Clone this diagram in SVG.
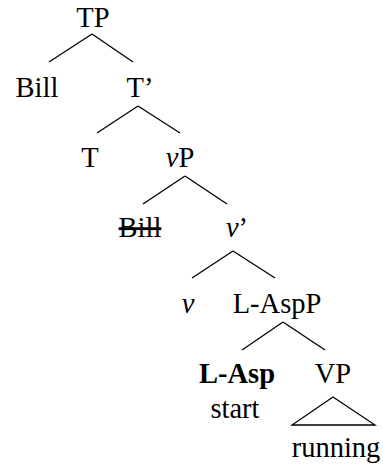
<svg xmlns="http://www.w3.org/2000/svg" width="383" height="466" viewBox="0 0 383 466">
<style>
text{font-family:"Liberation Serif","Times New Roman",serif;font-size:28.5px;fill:#000;text-anchor:middle}
.i{font-style:italic}
.b{font-weight:bold}
.s{text-decoration:line-through}
#edges line,#edges polygon{stroke:#000;stroke-width:1.3;fill:none}
</style>
<rect width="383" height="466" fill="#fff"/>
<g id="edges">
<line x1="92" y1="34" x2="49" y2="62"/><line x1="92" y1="34" x2="133" y2="62"/>
<line x1="138" y1="106" x2="97" y2="133"/><line x1="138" y1="106" x2="180" y2="133"/>
<line x1="185" y1="176" x2="143" y2="204"/><line x1="185" y1="176" x2="227" y2="204"/>
<line x1="233" y1="251" x2="192" y2="278"/><line x1="233" y1="251" x2="275" y2="278"/>
<line x1="283" y1="322" x2="242" y2="350"/><line x1="283" y1="322" x2="325" y2="350"/>
<polygon points="333,397 292,425 375,425"/>
</g>
<g id="TP"><text x="93" y="27">TP</text></g>
<g id="Bill"><text x="37" y="97">Bill</text></g>
<g id="Tbar"><text x="140" y="97">T’</text></g>
<g id="T"><text x="90" y="167">T</text></g>
<g id="vP"><text x="180" y="167"><tspan class="i">v</tspan>P</text></g>
<g id="Bill2"><text x="140" y="237" class="s">Bill</text></g>
<g id="vbar"><text x="237" y="237"><tspan class="i">v</tspan>’</text></g>
<g id="v"><text x="188" y="313" class="i">v</text></g>
<g id="LAspP"><text x="277" y="313">L-AspP</text></g>
<g id="LAsp"><text x="237" y="383" class="b">L-Asp</text><text x="235" y="418">start</text></g>
<g id="VP"><text x="333" y="383">VP</text></g>
<g id="running"><text x="336" y="457">running</text></g>
</svg>
